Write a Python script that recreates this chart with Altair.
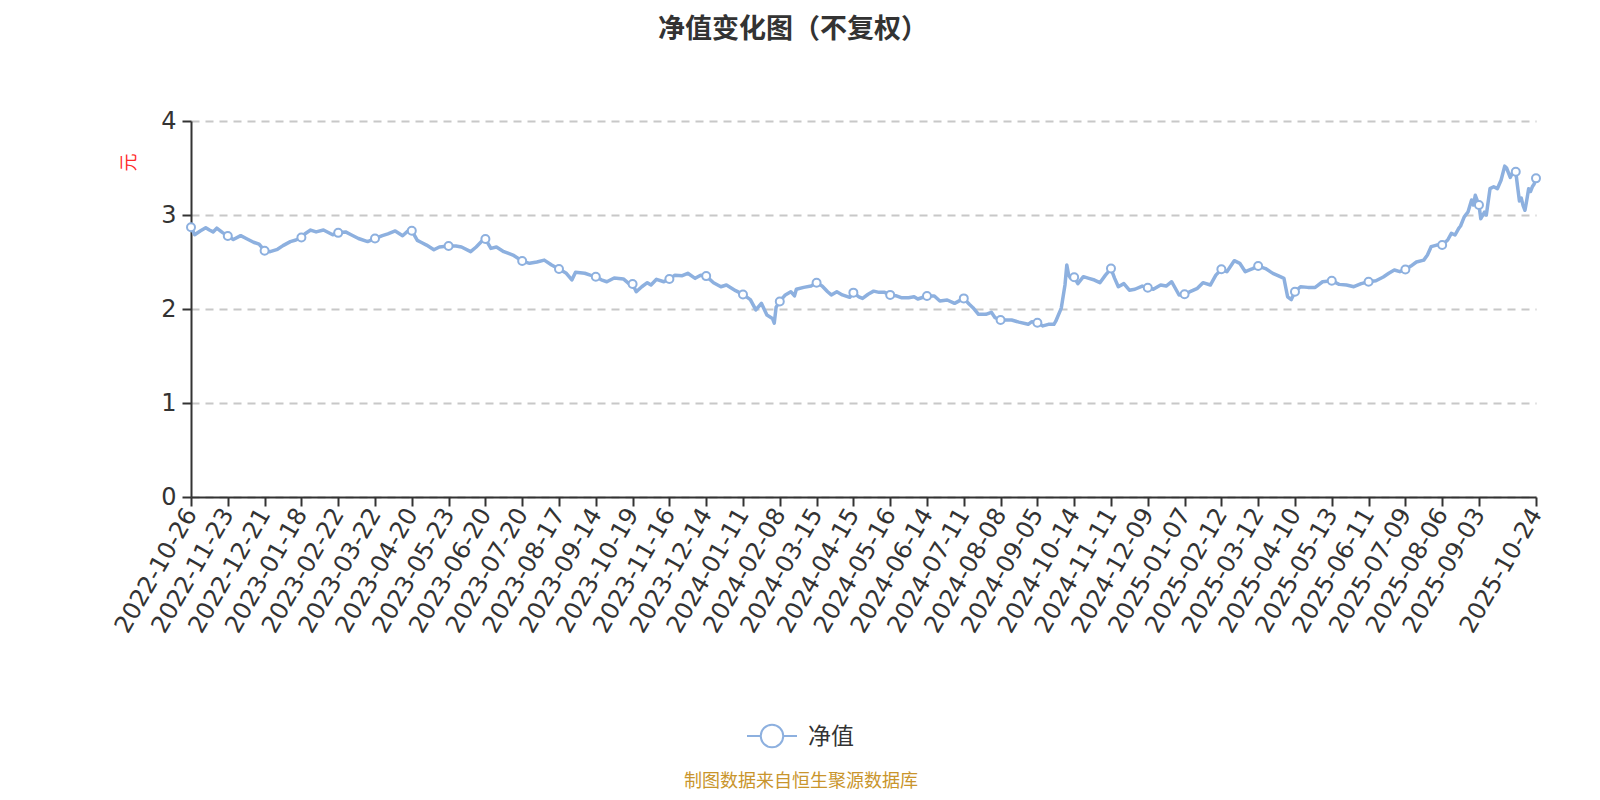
import altair as alt
import pandas as pd

# ---------------- text ----------------
title_text = "净值变化图（不复权）"
series_name = "净值"
y_unit = "元"
footer_text = "制图数据来自恒生聚源数据库"

# ---------------- x-axis labels (trading-day index -> date) ----------------
label_dates = [
    "2022-10-26", "2022-11-23", "2022-12-21", "2023-01-18", "2023-02-22",
    "2023-03-22", "2023-04-20", "2023-05-23", "2023-06-20", "2023-07-20",
    "2023-08-17", "2023-09-14", "2023-10-19", "2023-11-16", "2023-12-14",
    "2024-01-11", "2024-02-08", "2024-03-15", "2024-04-15", "2024-05-16",
    "2024-06-14", "2024-07-11", "2024-08-08", "2024-09-05", "2024-10-14",
    "2024-11-11", "2024-12-09", "2025-01-07", "2025-02-12", "2025-03-12",
    "2025-04-10", "2025-05-13", "2025-06-11", "2025-07-09", "2025-08-06",
    "2025-09-03", "2025-10-24",
]
label_idx = list(range(0, 701, 20)) + [731]
marker_idx = list(range(0, 721, 20)) + [731]
y_ticks = [0, 1, 2, 3, 4]

# ---------------- series (trading-day index, NAV) ----------------
idx = [
    0, 2, 5, 8, 10, 12, 14, 17, 20, 23, 27, 30, 34, 37, 40, 43, 47, 50, 54, 57,
    60, 62, 65, 68, 72, 77, 80, 84, 87, 91, 96, 100, 104, 107, 111, 115, 119, 120, 123, 125,
    128, 132, 135, 140, 144, 147, 152, 155, 158, 160, 163, 166, 170, 175, 180, 184, 188, 192, 196, 200,
    204, 207, 209, 214, 217, 220, 223, 226, 230, 235, 238, 240, 242, 245, 248, 250, 253, 257, 260, 263,
    267, 270, 274, 277, 280, 284, 288, 291, 296, 300, 304, 307, 310, 313, 316, 317, 318, 320, 323, 326,
    328, 329, 333, 337, 340, 343, 346, 348, 351, 354, 358, 360, 363, 365, 368, 371, 374, 377, 380, 383,
    386, 390, 393, 395, 400, 404, 407, 411, 415, 420, 423, 425, 428, 432, 435, 437, 440, 443, 446, 450,
    455, 457, 460, 463, 466, 469, 470, 473, 475, 476, 477, 478, 480, 482, 485, 488, 491, 494, 497, 500,
    502, 504, 507, 510, 513, 517, 520, 523, 527, 530, 533, 537, 540, 543, 547, 550, 554, 557, 560, 563,
    567, 570, 573, 577, 580, 584, 588, 592, 594, 596, 598, 600, 603, 607, 611, 615, 620, 624, 628, 632,
    636, 640, 644, 648, 651, 654, 657, 660, 663, 666, 670, 672, 674, 677, 680, 683, 685, 687, 689, 690,
    692, 694, 696, 697, 698, 700, 701, 703, 704, 706, 708, 710, 712, 714, 715, 717, 718, 720, 721, 722,
    723, 724, 725, 726, 727, 728, 729, 730, 731,
]
nav = [
    2.87, 2.79, 2.83, 2.865, 2.84, 2.82, 2.86, 2.815, 2.776, 2.74, 2.78, 2.75, 2.71, 2.69, 2.62, 2.61, 2.635, 2.674, 2.717, 2.734,
    2.76, 2.80, 2.84, 2.82, 2.84, 2.79, 2.81, 2.82, 2.79, 2.75, 2.717, 2.75, 2.78, 2.80, 2.83, 2.78, 2.85, 2.833, 2.73, 2.71,
    2.68, 2.63, 2.66, 2.67, 2.67, 2.66, 2.61, 2.66, 2.72, 2.745, 2.645, 2.66, 2.61, 2.574, 2.51, 2.486, 2.50, 2.52, 2.468, 2.425,
    2.38, 2.31, 2.39, 2.38, 2.36, 2.344, 2.31, 2.29, 2.33, 2.32, 2.27, 2.266, 2.184, 2.237, 2.28, 2.255, 2.316, 2.29, 2.32, 2.36,
    2.355, 2.38, 2.326, 2.36, 2.35, 2.28, 2.237, 2.255, 2.195, 2.155, 2.10, 1.99, 2.06, 1.936, 1.90, 1.85, 2.02, 2.08, 2.15, 2.184,
    2.14, 2.21, 2.23, 2.245, 2.28, 2.245, 2.184, 2.15, 2.184, 2.15, 2.124, 2.174, 2.13, 2.113, 2.157, 2.19, 2.177, 2.177, 2.15, 2.142,
    2.12, 2.12, 2.13, 2.106, 2.138, 2.138, 2.085, 2.096, 2.06, 2.113, 2.05, 2.014, 1.943, 1.943, 1.965, 1.908, 1.883, 1.883, 1.883, 1.86,
    1.837, 1.865, 1.854, 1.82, 1.837, 1.837, 1.87, 2.01, 2.255, 2.468, 2.36, 2.33, 2.337, 2.27, 2.344, 2.326, 2.308, 2.28, 2.36, 2.43,
    2.326, 2.237, 2.27, 2.20, 2.21, 2.244, 2.227, 2.21, 2.255, 2.244, 2.29, 2.149, 2.156, 2.184, 2.22, 2.28, 2.255, 2.36, 2.422, 2.397,
    2.514, 2.486, 2.397, 2.43, 2.457, 2.43, 2.379, 2.344, 2.326, 2.13, 2.10, 2.184, 2.237, 2.23, 2.23, 2.29, 2.30, 2.262, 2.255, 2.237,
    2.27, 2.29, 2.30, 2.34, 2.38, 2.415, 2.397, 2.42, 2.457, 2.50, 2.52, 2.574, 2.663, 2.68, 2.68, 2.734, 2.805, 2.787, 2.858, 2.883,
    2.98, 3.03, 3.16, 3.106, 3.21, 3.106, 2.96, 3.03, 3.00, 3.28, 3.30, 3.28, 3.37, 3.52, 3.50, 3.40, 3.44, 3.46, 3.30, 3.15,
    3.18, 3.10, 3.05, 3.16, 3.28, 3.25, 3.30, 3.33, 3.39,
]

# ---------------- style ----------------
line_color = "#8db0df"
text_color = "#333333"
latin_font = "DejaVu Sans"
cjk_font = "Noto Sans CJK SC"

df = pd.DataFrame({"idx": idx, "nav": nav, "series": series_name})
df_m = df[df["idx"].isin(marker_idx)]

label_expr = (
    "[" + ",".join("'" + d + "'" for d in label_dates) + "]"
    + "[indexof([" + ",".join(str(v) for v in label_idx) + "], datum.value)]"
)

x_enc = alt.X(
    "idx:Q",
    scale=alt.Scale(domain=[label_idx[0], label_idx[-1]], nice=False, zero=False),
    axis=alt.Axis(
        values=label_idx,
        tickCount=200,
        labelExpr=label_expr,
        labelAngle=-60,
        labelFontSize=24,
        labelPadding=4,
        labelOverlap=False,
        labelFlush=False,
        grid=False,
        title=None,
        tickSize=9,
        tickWidth=2,
        domainWidth=2,
    ),
)
y_enc = alt.Y(
    "nav:Q",
    scale=alt.Scale(domain=[y_ticks[0], y_ticks[-1]], nice=False, zero=True),
    axis=alt.Axis(
        values=y_ticks,
        format="d",
        labelFontSize=24,
        labelPadding=6,
        tickSize=9,
        tickWidth=2,
        domainWidth=2,
        grid=True,
        gridColor="#c8c8c8",
        gridDash=[8, 6],
        gridWidth=2,
        title=y_unit,
        titleColor="#ff2a2a",
        titleFont=cjk_font,
        titleFontSize=18,
        titleFontWeight="normal",
        titleAngle=-90,
        titleAlign="center",
        titleBaseline="middle",
        titleX=-62,
        titleY=41,
    ),
)

line = alt.Chart(df).mark_line(color=line_color, strokeWidth=3.5, strokeJoin="round").encode(
    x=x_enc, y=y_enc
)
points = alt.Chart(df_m).mark_point(
    filled=True, fill="white", stroke=line_color, strokeWidth=2, size=64, opacity=1
).encode(x="idx:Q", y="nav:Q")

title_layer = alt.Chart(pd.DataFrame({"t": [title_text]})).mark_text(
    font=cjk_font, fontSize=27, fontWeight="bold", color=text_color,
    align="center", baseline="middle"
).encode(text="t:N", x=alt.value(602), y=alt.value(-91))

legend_symbol = alt.Chart(pd.DataFrame({"s": [series_name]})).mark_point(
    shape="M-1,0L-0.45,0M0.45,0L1,0M0.45,0A0.45,0.45,0,1,1,-0.45,0A0.45,0.45,0,1,1,0.45,0Z",
    size=2500, filled=True, fill="white", stroke=line_color, strokeWidth=2, opacity=1
).encode(x=alt.value(581), y=alt.value(615))

legend_text = alt.Chart(pd.DataFrame({"s": [series_name]})).mark_text(
    font=cjk_font, fontSize=23, color=text_color, align="left", baseline="middle"
).encode(text="s:N", x=alt.value(617), y=alt.value(616))

footer = alt.Chart(pd.DataFrame({"t": [footer_text]})).mark_text(
    font=cjk_font, fontSize=18, color="#c9952c", align="center", baseline="middle"
).encode(text="t:N", x=alt.value(610), y=alt.value(661))

chart = (
    alt.layer(line, points, title_layer, legend_symbol, legend_text, footer)
    .properties(
        width=1345,
        height=376,
        autosize=alt.AutoSizeParams(type="none"),
        padding={"left": 183, "top": 113, "right": 40, "bottom": 294},
        background="white",
    )
    .configure_view(stroke=None)
    .configure_axis(
        labelFont=latin_font,
        labelColor=text_color,
        domainColor=text_color,
        tickColor=text_color,
    )
)

chart.save("out.html", embed_options={"renderer": "svg", "actions": False})
